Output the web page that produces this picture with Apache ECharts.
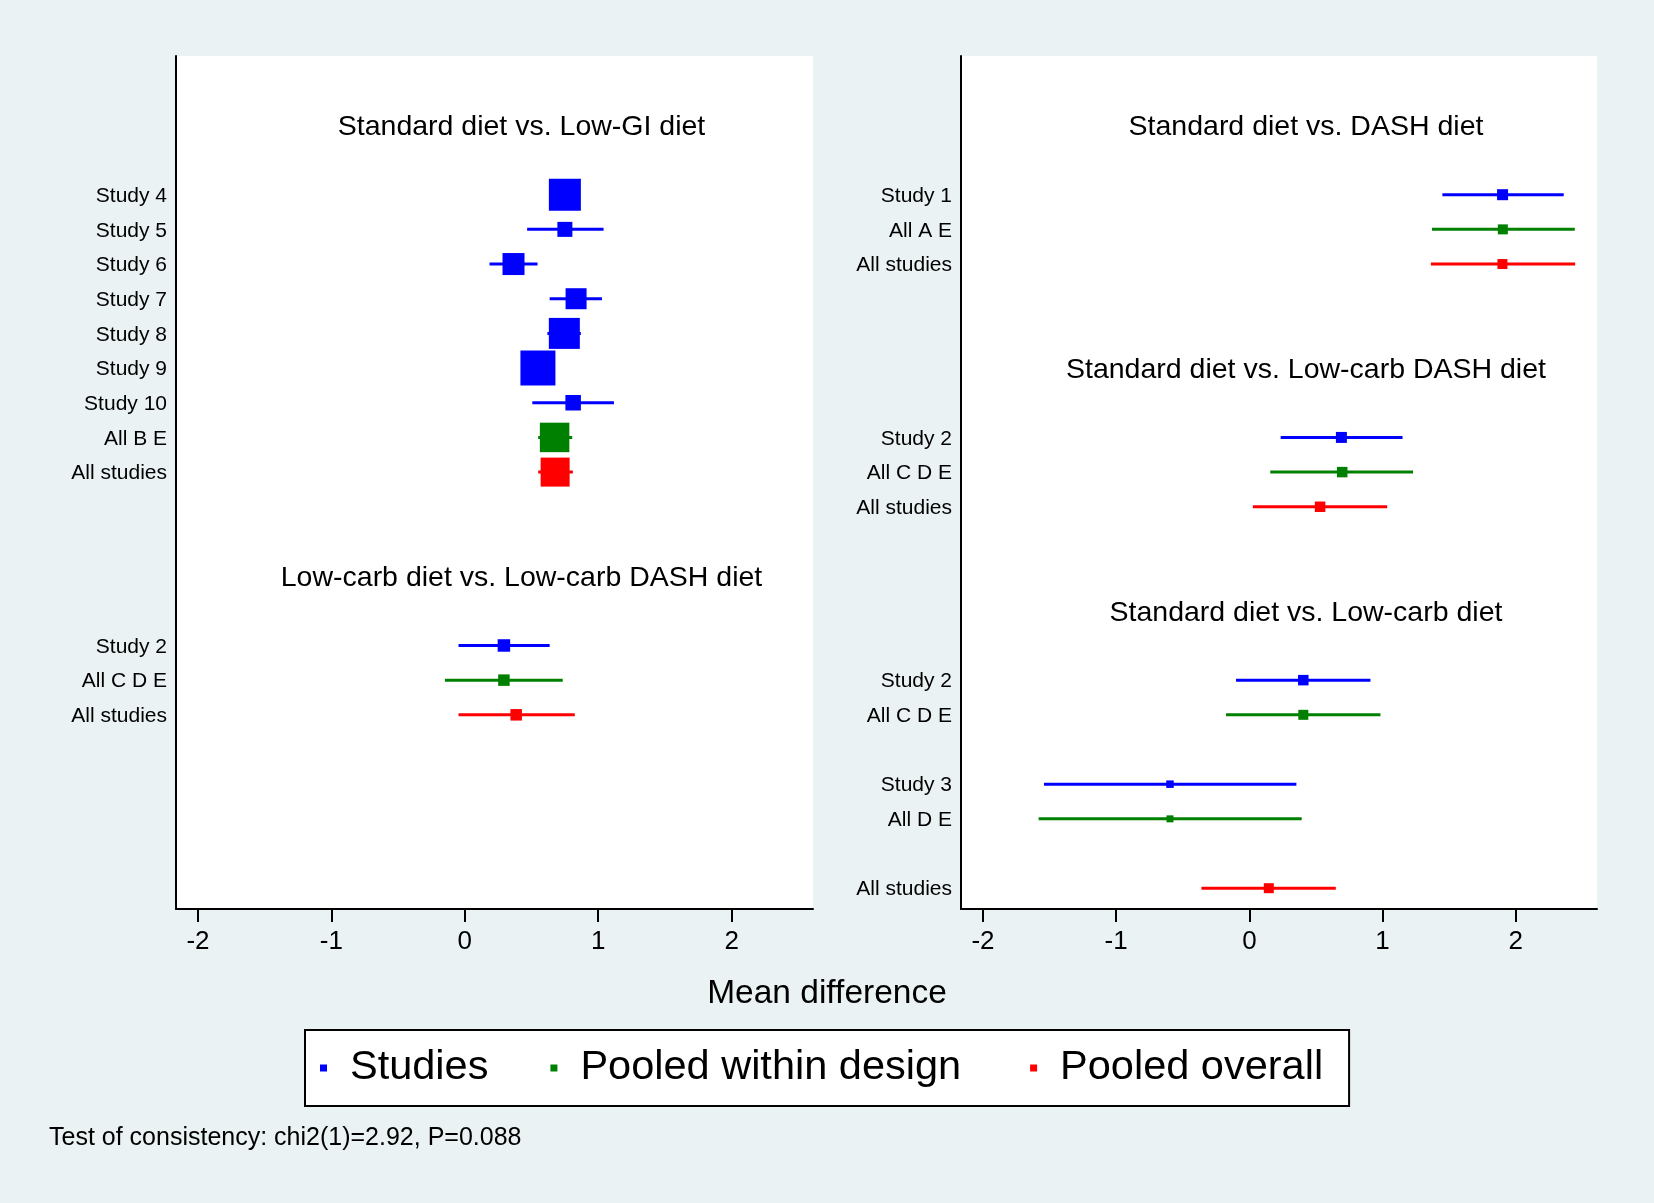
<!DOCTYPE html>
<html>
<head>
<meta charset="utf-8">
<script src="https://cdn.jsdelivr.net/npm/echarts@6/dist/echarts.min.js"></script>
<style>
html,body{margin:0;padding:0;background:#EAF2F3;}
#chart{width:1654px;height:1203px;}
</style>
</head>
<body>
<div id="chart"></div>
<script>
// ---------- DATA ----------
// Left panel rows (row index counted from the top of the panel)
const leftLabels = ['Study 4','Study 5','Study 6','Study 7','Study 8','Study 9','Study 10','All B E','All studies',
                    'Study 2','All C D E','All studies'];
const leftRows   = [2,3,4,5,6,7,8,9,10, 15,16,17];
const leftEst    = [0.75,0.75,0.365,0.834,0.746,0.548,0.812,0.673,0.677, 0.293,0.293,0.385];
const leftLo     = [0.64,0.467,0.185,0.636,0.619,0.45,0.506,0.55,0.55, -0.047,-0.149,-0.047];
const leftHi     = [0.86,1.04,0.545,1.028,0.87,0.65,1.118,0.805,0.81, 0.636,0.734,0.824];
const leftWeight = [32,15,22,21,31,35,15.5,29.5,29, 12.5,11.5,11.5];
const leftType   = [0,0,0,0,0,0,0,1,2, 0,1,2];
const leftTitles    = ['Standard diet vs. Low-GI diet','Low-carb diet vs. Low-carb DASH diet'];
const leftTitleRows = [0,13];

// Right panel rows
const rightLabels = ['Study 1','All A E','All studies',
                     'Study 2','All C D E','All studies',
                     'Study 2','All C D E','Study 3','All D E','All studies'];
const rightRows   = [2,3,4, 9,10,11, 16,17,19,20,22];
const rightEst    = [1.901,1.903,1.90, 0.691,0.697,0.531, 0.405,0.405,-0.596,-0.596,0.146];
const rightLo     = [1.449,1.371,1.363, 0.235,0.157,0.026, -0.10,-0.175,-1.542,-1.582,-0.36];
const rightHi     = [2.36,2.443,2.446, 1.15,1.229,1.035, 0.909,0.984,0.353,0.393,0.649];
const rightWeight = [11,10,10, 11,10.5,10.5, 10.5,10,7.5,7,10];
const rightType   = [0,1,2, 0,1,2, 0,1,0,1,2];
const rightTitles    = ['Standard diet vs. DASH diet','Standard diet vs. Low-carb DASH diet','Standard diet vs. Low-carb diet'];
const rightTitleRows = [0,7,14];

const typeNames  = ['Studies','Pooled within design','Pooled overall'];
const xTicks     = [-2,-1,0,1,2];
const xAxisTitle = 'Mean difference';
const footnote   = 'Test of consistency: chi2(1)=2.92, P=0.088';

// ---------- STYLE ----------
const FONT = '"Liberation Sans", Arial, sans-serif';
const typeColors = ['#0000FF','#008000','#FF0000'];
const legendTextPad = [[0,0,0,18],[0,7,0,18],[0,0,0,18]];
const BOX_SCALE = 1;
const X_MIN = -2.165, X_MAX = 2.61, Y_MIN = -2, Y_MAX = 22.6;
const TITLE_X = 0.425;

function forestRender(color) {
  return function (params, api) {
    const est = api.value(0), row = api.value(1), lo = api.value(2), hi = api.value(3), w = api.value(4);
    const c = api.coord([est, row]);
    const l = api.coord([lo, row]);
    const h = api.coord([hi, row]);
    const s = w * BOX_SCALE;
    return {
      type: 'group',
      children: [
        {type:'line', shape:{x1:l[0], y1:l[1], x2:h[0], y2:h[1]}, style:{stroke:color, lineWidth:3}},
        {type:'rect', shape:{x:c[0]-s/2, y:c[1]-s/2, width:s, height:s}, style:{fill:color}}
      ]
    };
  };
}

function panelSeries(idx, est, rows, lo, hi, weight, type) {
  const out = [];
  for (let t = 0; t < 3; t++) {
    const data = [];
    for (let i = 0; i < est.length; i++) {
      if (type[i] === t) data.push([est[i], rows[i], lo[i], hi[i], weight[i]]);
    }
    out.push({
      type: 'custom', name: typeNames[t], xAxisIndex: idx, yAxisIndex: idx,
      itemStyle: {color: typeColors[t]},
      encode: {x: [0,2,3], y: 1},
      renderItem: forestRender(typeColors[t]),
      data: data, silent: true, clip: false
    });
  }
  return out;
}

function titleSeries(idx, titles, rows) {
  return {
    type: 'custom', xAxisIndex: idx, yAxisIndex: idx, silent: true,
    data: rows.map((r, i) => [TITLE_X, r, i]),
    encode: {x: 0, y: 1},
    renderItem: function (params, api) {
      const p = api.coord([api.value(0), api.value(1)]);
      return {type:'text', x:p[0], y:p[1] + 2,
        style:{text: titles[api.value(2)], fontSize:28.5, fontFamily:FONT, fill:'#000', align:'center', verticalAlign:'middle'}};
    }
  };
}

function xAxisCfg(idx) {
  return {
    type:'value', gridIndex: idx, min: X_MIN, max: X_MAX,
    axisLine:{show:true, onZero:false, lineStyle:{color:'#000', width:2}},
    axisTick:{show:true, customValues: xTicks, length:13, lineStyle:{color:'#000', width:2}},
    axisLabel:{show:true, customValues: xTicks, fontSize:26, fontFamily:FONT, color:'#000', margin:20},
    splitLine:{show:false}
  };
}
function yAxisCfg(idx, rows, labels) {
  return {
    type:'value', gridIndex: idx, min: Y_MIN, max: Y_MAX, inverse: true,
    axisLine:{show:true, onZero:false, lineStyle:{color:'#000', width:2}},
    axisTick:{show:false},
    axisLabel:{show:true, customValues: rows, fontSize:21, fontFamily:FONT, color:'#000', margin:9,
      rich: {a: {fontSize:21, fontFamily:FONT, color:'#000', padding:[3,0,0,0]}},
      formatter: function (v) { const i = rows.indexOf(v); return i >= 0 ? '{a|' + labels[i] + '}' : ''; }},
    splitLine:{show:false}
  };
}

const chart = echarts.init(document.getElementById('chart'), null, {renderer:'canvas'});
chart.setOption({
  backgroundColor: '#EAF2F3',
  animation: false,
  textStyle: {fontFamily: FONT},
  title: [
    {text: xAxisTitle, left: 'center', top: 972, textStyle:{fontSize:33.5, fontWeight:'normal', color:'#000', fontFamily:FONT}},
    {text: footnote, left: 44, top: 1121, textStyle:{fontSize:25, fontWeight:'normal', color:'#000', fontFamily:FONT}}
  ],
  grid: [
    {left:176, top:56, width:637, height:853, show:true, backgroundColor:'#fff', borderWidth:0},
    {left:961, top:56, width:636, height:853, show:true, backgroundColor:'#fff', borderWidth:0}
  ],
  xAxis: [xAxisCfg(0), xAxisCfg(1)],
  yAxis: [yAxisCfg(0, leftRows, leftLabels), yAxisCfg(1, rightRows, rightLabels)],
  legend: {
    data: typeNames.map((n, i) => ({name:n, icon:'rect', textStyle:{padding: legendTextPad[i]}})),
    left: 305, top: 1030, orient: 'horizontal',
    itemWidth: 7, itemHeight: 7, itemGap: 62,
    textStyle: {fontSize:41.5, fontFamily:FONT, color:'#000', padding:[0,0,0,18], lineHeight:46},
    padding: [15, 26, 15, 15],
    borderColor:'#000', borderWidth:2, backgroundColor:'#fff', borderRadius:0,
    selectedMode: false
  },
  series: [].concat(
    panelSeries(0, leftEst, leftRows, leftLo, leftHi, leftWeight, leftType),
    panelSeries(1, rightEst, rightRows, rightLo, rightHi, rightWeight, rightType),
    [titleSeries(0, leftTitles, leftTitleRows), titleSeries(1, rightTitles, rightTitleRows)]
  )
});
</script>
</body>
</html>
